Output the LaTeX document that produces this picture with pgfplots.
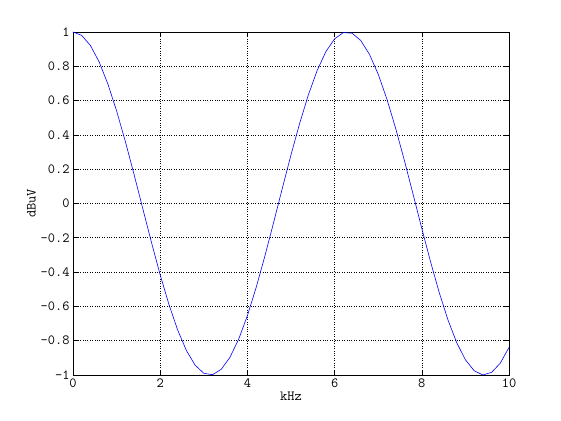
\documentclass[border=0pt]{standalone}
\usepackage{pgfplots}
\pgfplotsset{compat=1.18}
\begin{document}
\begin{tikzpicture}[x=1pt,y=1pt]
\path[use as bounding box] (-73pt,-45pt) rectangle (488pt,375pt);
\begin{axis}[
  scale only axis, width=436pt, height=343pt,
  at={(0pt,0pt)}, anchor=south west,
  xmin=0, xmax=10, ymin=-1, ymax=1,
  xtick={0,2,...,10}, ytick={-1,-0.8,...,1.01},
  grid=major, major grid style={black, dotted, line width=0.6pt},
  axis line style={black, line width=0.6pt},
  tick style={black, line width=0.6pt}, major tick length=5pt,
  tick align=inside,
  font=\ttfamily\fontsize{14}{16}\selectfont,
  /pgf/number format/assume math mode=true,
  yticklabel style={/pgf/number format/fixed, /pgf/number format/precision=1},
  xlabel={kHz}, ylabel={dBuV},
  xlabel style={yshift=2pt}, ylabel style={yshift=-2pt},
]
\addplot[blue, line width=0.6pt] coordinates {
(0,1) (0.2,0.98007) (0.4,0.92106) (0.6,0.82534) (0.8,0.69671)
(1.0,0.54030) (1.2,0.36236) (1.4,0.16997) (1.6,-0.02920) (1.8,-0.22720)
(2.0,-0.41615) (2.2,-0.58850) (2.4,-0.73739) (2.6,-0.85689) (2.8,-0.94222)
(3.0,-0.98999) (3.2,-0.99829) (3.4,-0.96680) (3.6,-0.89676) (3.8,-0.79097)
(4.0,-0.65364) (4.2,-0.49026) (4.4,-0.30733) (4.6,-0.11215) (4.8,0.08750)
(5.0,0.28366) (5.2,0.46852) (5.4,0.63469) (5.6,0.77557) (5.8,0.88552)
(6.0,0.96017) (6.2,0.99654) (6.4,0.99318) (6.6,0.95023) (6.8,0.86939)
(7.0,0.75390) (7.2,0.60835) (7.4,0.43853) (7.6,0.25117) (7.8,0.05396)
(8.0,-0.14550) (8.2,-0.33915) (8.4,-0.51929) (8.6,-0.67872) (8.8,-0.81109)
(9.0,-0.91113) (9.2,-0.97484) (9.4,-0.99969) (9.6,-0.98476) (9.8,-0.93087)
(10,-0.83907)
};
\end{axis}
\end{tikzpicture}
\end{document}
